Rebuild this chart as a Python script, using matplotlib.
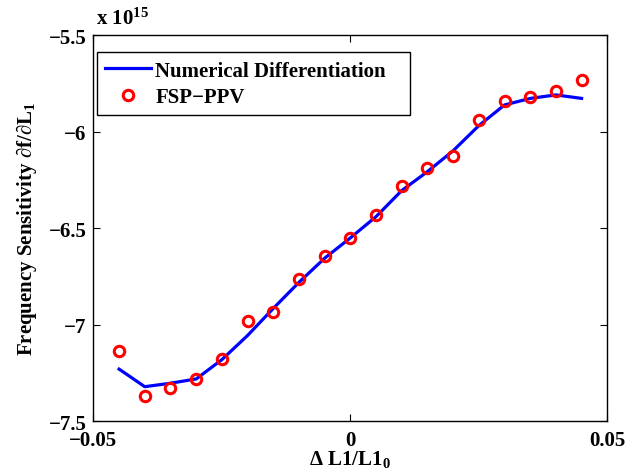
import matplotlib
matplotlib.use("Agg")
import matplotlib.pyplot as plt

plt.rcParams['font.family'] = ['Liberation Serif', 'DejaVu Serif']
plt.rcParams['font.weight'] = 'bold'
plt.rcParams['mathtext.fontset'] = 'custom'
plt.rcParams['mathtext.rm'] = 'Liberation Serif:bold'
plt.rcParams['mathtext.bf'] = 'Liberation Serif:bold'
plt.rcParams['mathtext.it'] = 'Liberation Serif:bold'
plt.rcParams['mathtext.default'] = 'bf'

# x: relative change Delta L1 / L1_0 ; y values in units of 1e15
x_vals = [-0.045, -0.04, -0.035, -0.03, -0.025, -0.02, -0.015, -0.01, -0.005, 0.0,
          0.005, 0.01, 0.015, 0.02, 0.025, 0.03, 0.035, 0.04, 0.045]
numdiff = [-7.229, -7.320, -7.302, -7.280, -7.180, -7.055, -6.915, -6.780, -6.655, -6.550,
           -6.440, -6.305, -6.207, -6.099, -5.969, -5.862, -5.828, -5.810, -5.828]
fsp_ppv = [-7.134, -7.369, -7.329, -7.282, -7.179, -6.980, -6.934, -6.764, -6.645, -6.548,
           -6.432, -6.280, -6.187, -6.126, -5.942, -5.840, -5.821, -5.791, -5.733]
x_ticks = [-0.05, 0, 0.05]
x_tick_labels = ['\u22120.05', '0', '0.05']
y_ticks = [-7.5, -7, -6.5, -6, -5.5]
y_tick_labels = ['\u22127.5', '\u22127', '\u22126.5', '\u22126', '\u22125.5']

FS = 15

fig = plt.figure(figsize=(6.44, 4.77), dpi=100)
ax = fig.add_axes([0.145, 0.1143, 0.798, 0.8102])

ax.plot(x_vals, numdiff, color='#0000ff', linewidth=2.3, label='Numerical Differentiation')
ax.plot(x_vals, fsp_ppv, linestyle='none', marker='o', markersize=7.5,
        markerfacecolor='none', markeredgecolor='#ff0000', markeredgewidth=2.2,
        label='FSP\u2212PPV')

ax.set_xlim(-0.05, 0.05)
ax.set_ylim(-7.5, -5.5)
ax.set_xticks(x_ticks)
ax.set_xticklabels(x_tick_labels)
ax.set_yticks(y_ticks)
ax.set_yticklabels(y_tick_labels)
ax.tick_params(direction='in', length=5, width=0.8, top=True, right=True,
               labelsize=FS, pad=5)
ax.tick_params(axis='x', pad=6)
for lab in ax.get_xticklabels() + ax.get_yticklabels():
    lab.set_fontweight('bold')
for sp in ax.spines.values():
    sp.set_linewidth(1.0)

ax.set_xlabel('\u0394 L1/L1$_0$', fontsize=FS, fontweight='bold', labelpad=-1)
ax.set_ylabel('Frequency Sensitivity \u2202f/\u2202L$_1$', fontsize=FS,
              fontweight='bold', labelpad=7)
ax.text(0.005, 1.015, 'x 10$^{15}$', transform=ax.transAxes, fontsize=FS,
        fontweight='bold', ha='left', va='bottom')

leg = ax.legend(loc='upper left', bbox_to_anchor=(0.007, 0.5, 0.609, 0.455),
                mode='expand', fontsize=FS,
                frameon=True, fancybox=False, edgecolor='black', framealpha=1,
                handlelength=2.2, borderpad=0.4, labelspacing=0.3, handletextpad=0.2,
                borderaxespad=0)
leg.get_frame().set_linewidth(1.0)
for t in leg.get_texts():
    t.set_fontweight('bold')

fig.savefig('out.png', dpi=100)
